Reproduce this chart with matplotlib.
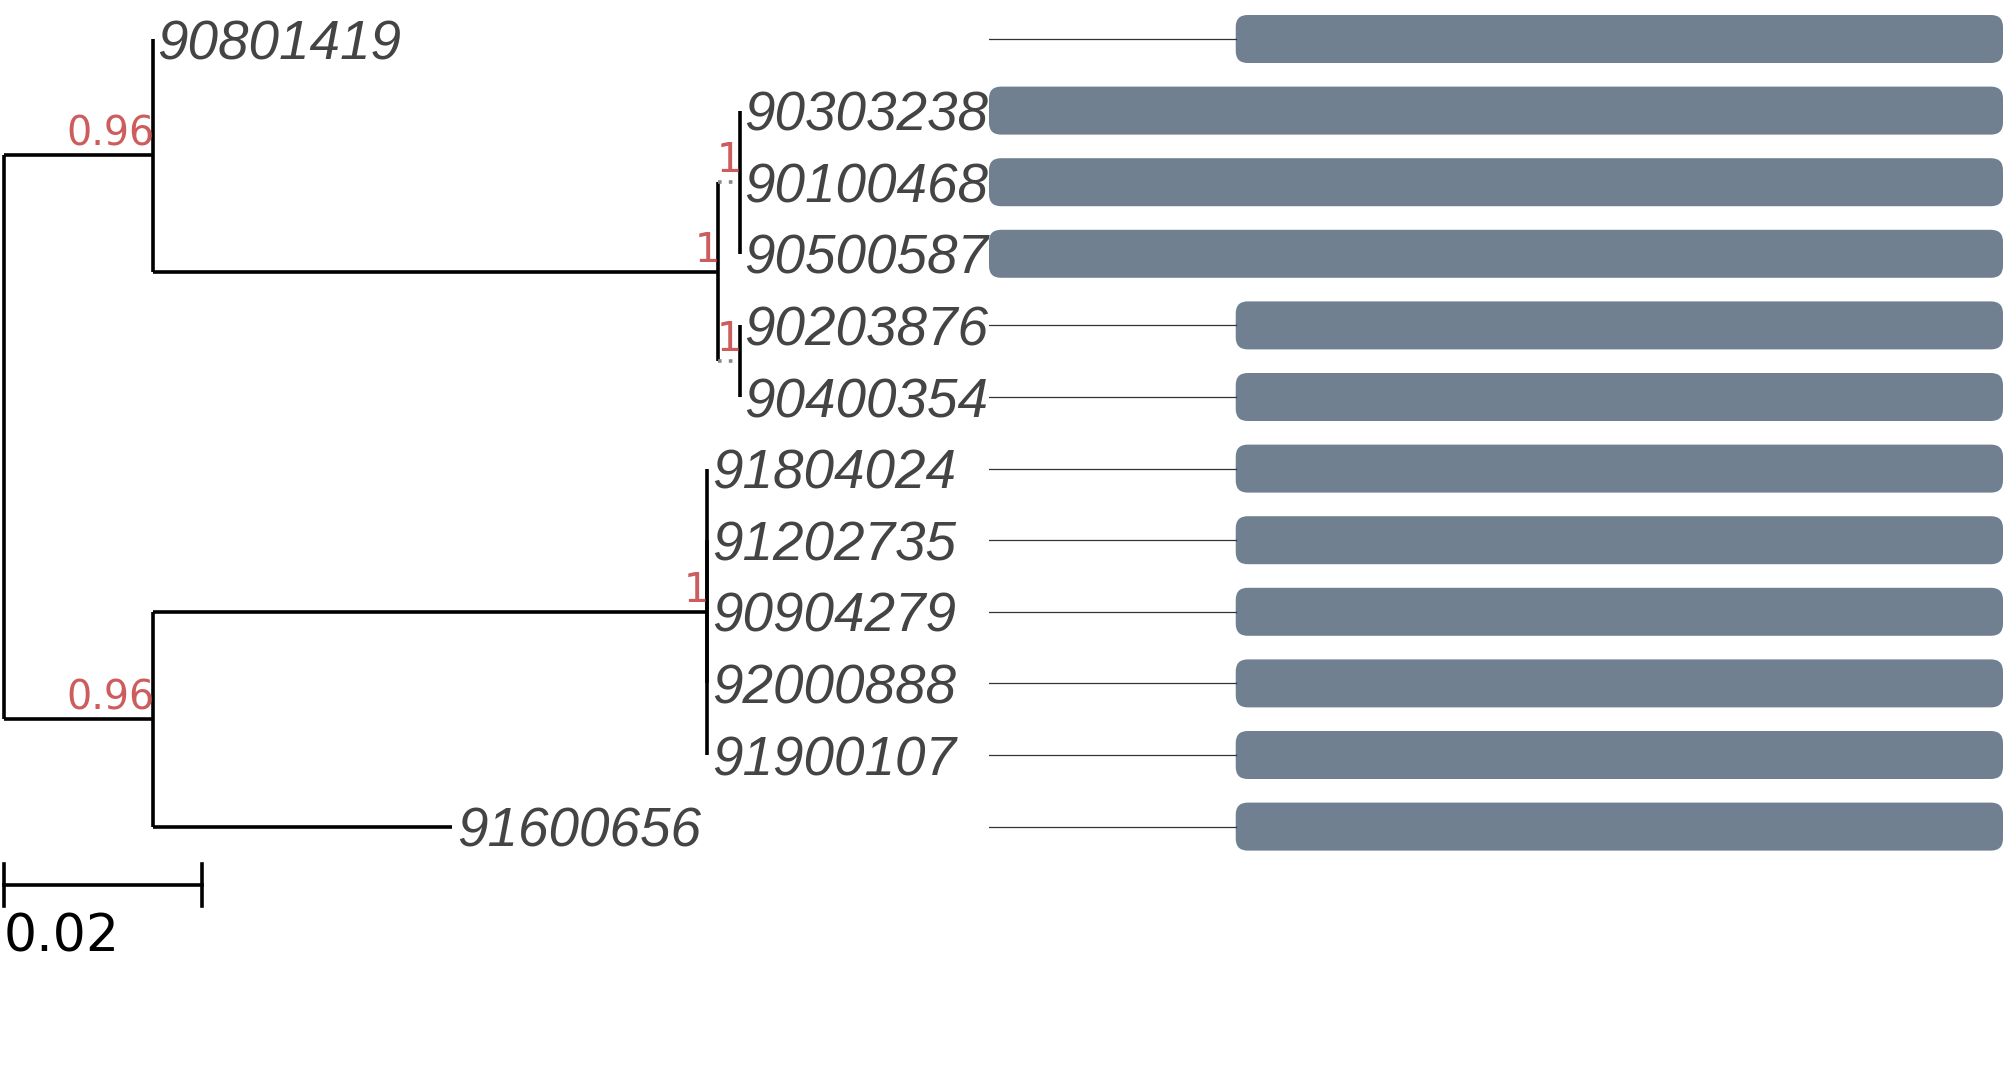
import matplotlib.pyplot as plt
from matplotlib.patches import FancyBboxPatch

# tips, top to bottom
tips = ["90801419", "90303238", "90100468", "90500587", "90203876", "90400354",
        "91804024", "91202735", "90904279", "92000888", "91900107", "91600656"]

# tree: node -> (parent, branch length)
parent = {
    "n1": "root", "n5": "root",
    "90801419": "n1", "n2": "n1",
    "n3": "n2", "n4": "n2",
    "90303238": "n3", "90100468": "n3", "90500587": "n3",
    "90203876": "n4", "90400354": "n4",
    "n6": "n5", "91600656": "n5",
    "91804024": "n6", "91202735": "n6", "90904279": "n6",
    "92000888": "n6", "91900107": "n6",
}
branch_len = {
    "n1": 0.0150, "n5": 0.0150,
    "90801419": 0.0, "n2": 0.0571,
    "n3": 0.0022, "n4": 0.0022,
    "90303238": 0.0, "90100468": 0.0, "90500587": 0.0,
    "90203876": 0.0, "90400354": 0.0,
    "n6": 0.0560, "91600656": 0.0303,
    "91804024": 0.0, "91202735": 0.0, "90904279": 0.0,
    "92000888": 0.0, "91900107": 0.0,
}
support = {"n1": "0.96", "n2": "1", "n3": "1", "n4": "1", "n5": "0.96", "n6": "1"}

# alignment track (positions along sequence)
aln_len = 1500
aln_start = [365, 0, 0, 0, 365, 365, 365, 365, 365, 365, 365, 365]

scale_len = 0.02

# ---- layout of the tree ----
children = {}
for node, par in parent.items():
    children.setdefault(par, []).append(node)

xpos = {"root": 0.0}
ypos = {t: i + 1 for i, t in enumerate(tips)}


def place_x(node):
    for ch in children.get(node, []):
        xpos[ch] = xpos[node] + branch_len[ch]
        place_x(ch)


def place_y(node):
    if node in ypos:
        return ypos[node]
    ys = [place_y(ch) for ch in children[node]]
    ypos[node] = (min(ys) + max(ys)) / 2
    return ypos[node]


place_x("root")
place_y("root")

W, H = 2007, 1065
fig = plt.figure(figsize=(W / 100, H / 100), dpi=100)

row_px = 71.6
top_px = 39
ylim = (1 + (H - top_px) / row_px, 1 - top_px / row_px)

split_px = 989
px = scale_len / 198
ax = fig.add_axes([0, 0, split_px / W, 1])
ax.set_xlim(-4 * px, (split_px - 4) * px)
ax.set_ylim(*ylim)
ax.axis("off")

lw = 2.6
for node, par in parent.items():
    x0, x1 = xpos[par], xpos[node]
    y0, y1 = ypos[par], ypos[node]
    ax.plot([x0, x0], [y0, y1], color="black", lw=lw, solid_capstyle="butt")
    if x1 > x0:
        short_internal = node in children and branch_len[node] < 0.005
        if short_internal:
            ax.plot([x0, x1], [y1, y1], color="#888888", lw=lw, ls=(0, (1, 2)))
        else:
            ax.plot([x0, x1], [y1, y1], color="black", lw=lw, solid_capstyle="butt")

for t in tips:
    ax.text(xpos[t] + 5 * px, ypos[t] + 0.28, t, fontsize=39.5, style="italic",
            family="Liberation Sans", color="#444444", ha="left", va="baseline")

for node, lab in support.items():
    ax.text(xpos[node] + 2 * px, ypos[node] - 0.14, lab, fontsize=28.5,
            family="DejaVu Sans", color="#CD5C5C", ha="right", va="baseline")

# scale bar
sb_y = 1 + (885 - top_px) / row_px
ax.plot([0, scale_len], [sb_y, sb_y], color="black", lw=lw)
for xx in (0, scale_len):
    ax.plot([xx, xx], [sb_y - 0.3, sb_y + 0.3], color="black", lw=lw)
ax.text(0, 1 + (952 - top_px) / row_px, f"{scale_len:g}", fontsize=37.5,
        family="DejaVu Sans", color="black", ha="left", va="baseline")

# ---- alignment track ----
ax2 = fig.add_axes([split_px / W, 0, (2003 - split_px) / W, 1])
ax2.set_xlim(0, aln_len)
ax2.set_ylim(*ylim)
ax2.axis("off")

units_per_px = aln_len / (2003 - split_px)
radius = 12 * units_per_px
aspect = (1 / row_px) / units_per_px
bar_h = 48 / row_px
for i, t in enumerate(tips):
    y = ypos[t]
    if aln_start[i] > 0:
        ax2.plot([0, aln_start[i]], [y, y], color="#333333", lw=0.9)
    ax2.add_patch(FancyBboxPatch((aln_start[i], y - bar_h / 2), aln_len - aln_start[i], bar_h,
                                 boxstyle=f"round,pad=0,rounding_size={radius}",
                                 mutation_aspect=aspect, facecolor="#708090",
                                 edgecolor="none"))

fig.savefig("out.png", dpi=100)
plt.close(fig)
